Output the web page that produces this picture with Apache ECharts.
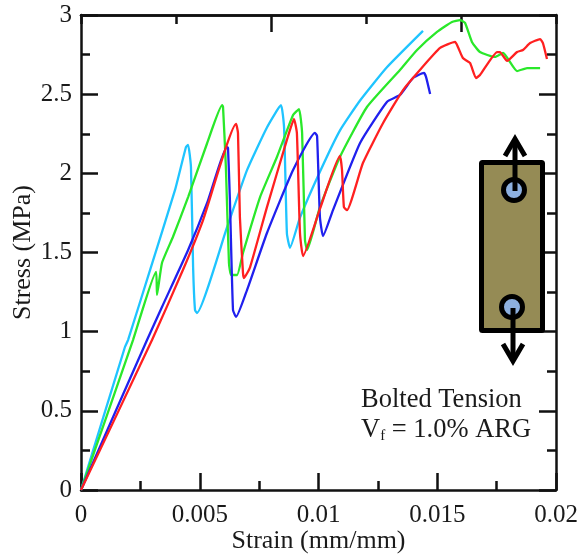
<!DOCTYPE html>
<html>
<head>
<meta charset="utf-8">
<style>
  html, body { margin: 0; padding: 0; background: #fff; }
  #main { width: 580px; height: 558px; }
</style>
<script src="https://cdn.jsdelivr.net/npm/echarts@6/dist/echarts.min.js"></script>
</head>
<body>
<div id="main"></div>
<script>
// [strain, stress]
const cyanCurve = [[0,0],[0.00185,0.903],[0.00198,0.947],[0.00291,1.39],[0.00396,1.895],[0.00442,2.166],[0.00451,2.18],[0.00463,2.04],[0.00472,1.41],[0.0048,1.137],[0.00488,1.118],[0.00615,1.66],[0.00699,2.02],[0.00783,2.29],[0.00842,2.43],[0.00855,2.29],[0.00867,1.62],[0.0088,1.53],[0.00922,1.72],[0.01006,2.01],[0.0109,2.27],[0.01175,2.46],[0.01288,2.67],[0.0144,2.9]];
const greenCurve = [[0,0],[0.00219,0.947],[0.00316,1.377],[0.0032,1.232],[0.00341,1.434],[0.00387,1.598],[0.00451,1.85],[0.00531,2.19],[0.00594,2.43],[0.00598,2.42],[0.0061,2.04],[0.00623,1.434],[0.00632,1.358],[0.00657,1.358],[0.00682,1.497],[0.00754,1.85],[0.00825,2.103],[0.00893,2.368],[0.00918,2.406],[0.00931,2.255],[0.00943,1.579],[0.00952,1.516],[0.01006,1.787],[0.0109,2.103],[0.01204,2.419],[0.01343,2.653],[0.01415,2.779],[0.01499,2.893],[0.01562,2.956],[0.01596,2.968],[0.01617,2.95],[0.01646,2.83],[0.0168,2.766],[0.01743,2.735],[0.01777,2.76],[0.01836,2.646],[0.01878,2.665],[0.01933,2.665]];
const blueCurve = [[0,0],[0.00278,0.947],[0.00341,1.156],[0.00451,1.516],[0.00531,1.813],[0.00615,2.166],[0.00619,2.16],[0.00627,1.832],[0.0064,1.137],[0.00653,1.093],[0.00699,1.263],[0.00783,1.623],[0.00893,2.021],[0.00985,2.255],[0.00994,2.236],[0.01006,1.724],[0.01019,1.604],[0.01061,1.768],[0.01175,2.192],[0.01288,2.451],[0.01343,2.495],[0.01398,2.602],[0.01444,2.634],[0.01453,2.608],[0.0147,2.501]];
const redCurve = [[0,0],[0.00299,0.947],[0.00429,1.389],[0.00514,1.705],[0.00653,2.312],[0.00661,2.255],[0.00669,1.724],[0.00682,1.371],[0.00686,1.339],[0.00712,1.408],[0.00783,1.787],[0.00867,2.211],[0.00897,2.343],[0.00909,2.255],[0.00922,1.623],[0.00935,1.478],[0.01006,1.775],[0.0109,2.11],[0.01099,2.021],[0.01107,1.787],[0.0112,1.768],[0.01187,2.065],[0.01272,2.318],[0.01356,2.526],[0.01427,2.653],[0.01512,2.792],[0.01575,2.83],[0.01587,2.798],[0.01608,2.728],[0.01638,2.697],[0.01663,2.602],[0.0168,2.621],[0.01752,2.766],[0.01764,2.766],[0.01794,2.71],[0.01836,2.766],[0.01861,2.779],[0.01891,2.823],[0.01933,2.848],[0.01945,2.823],[0.01962,2.722]];

const topLongTicks = [0.008, 0.016];

const font = '"Liberation Serif", serif';
const ink = '#1a1a1a';
const tickStyle = { color: '#111', width: 2.5 };
const axisLine = { show: true, onZero: false, lineStyle: { color: '#111', width: 2.5 } };

const makeLine = (name, data, color) => ({
  name,
  type: 'line',
  data,
  showSymbol: false,
  smooth: 0.15,
  lineStyle: { color, width: 2.3 }
});

const baseX = {
  type: 'value',
  min: 0,
  max: 0.02,
  splitLine: { show: false },
  axisLine
};
const baseY = {
  type: 'value',
  min: 0,
  max: 3,
  interval: 0.5,
  splitLine: { show: false },
  axisLine,
  axisTick: { inside: true, length: 17, lineStyle: tickStyle },
  minorTick: { show: true, splitNumber: 2, length: 9, lineStyle: tickStyle }
};

const chart = echarts.init(document.getElementById('main'), null, { renderer: 'canvas' });

chart.setOption({
  animation: false,
  backgroundColor: '#fff',
  grid: { left: 81, top: 15, width: 475, height: 475, containLabel: false, outerBoundsMode: 'none' },
  xAxis: [
    {
      ...baseX,
      position: 'bottom',
      interval: 0.005,
      name: 'Strain (mm/mm)',
      nameLocation: 'middle',
      nameMoveOverlap: false,
      nameGap: 38,
      nameTextStyle: { fontFamily: font, fontSize: 26, color: ink },
      axisLabel: { fontFamily: font, fontSize: 25, color: ink, margin: 13 },
      axisTick: { inside: true, length: 17, lineStyle: tickStyle },
      minorTick: { show: true, splitNumber: 2, length: 9, lineStyle: tickStyle }
    },
    {
      // top edge is ticked on a different step than the bottom
      ...baseX,
      position: 'top',
      interval: 0.004,
      axisLabel: { show: false },
      axisTick: { inside: true, length: 9, lineStyle: tickStyle }
    },
    {
      ...baseX,
      position: 'top',
      axisLabel: { show: false },
      axisTick: { inside: true, length: 17, customValues: topLongTicks, lineStyle: tickStyle }
    }
  ],
  yAxis: [
    {
      ...baseY,
      position: 'left',
      name: 'Stress (MPa)',
      nameLocation: 'middle',
      nameMoveOverlap: false,
      nameGap: 45,
      nameTextStyle: { fontFamily: font, fontSize: 26, color: ink },
      axisLabel: { fontFamily: font, fontSize: 25, color: ink, margin: 9 }
    },
    {
      ...baseY,
      position: 'right',
      axisLabel: { show: false }
    }
  ],
  series: [
    makeLine('cyan', cyanCurve, '#1fc4ff'),
    makeLine('green', greenCurve, '#2ae82a'),
    makeLine('blue', blueCurve, '#2020ee'),
    makeLine('red', redCurve, '#ff2020')
  ],
  // bolted specimen sketch and its note
  graphic: [
    { type: 'rect', z: 10, shape: { x: 481.5, y: 162.5, width: 61, height: 168, r: 1 }, style: { fill: '#958b55', stroke: '#000', lineWidth: 5 } },
    { type: 'circle', z: 11, shape: { cx: 514, cy: 190, r: 10.5 }, style: { fill: '#8db0df', stroke: '#000', lineWidth: 5 } },
    { type: 'circle', z: 11, shape: { cx: 512, cy: 307, r: 10.5 }, style: { fill: '#8db0df', stroke: '#000', lineWidth: 5 } },
    { type: 'line', z: 12, shape: { x1: 515, y1: 191, x2: 515, y2: 140 }, style: { stroke: '#000', lineWidth: 5 } },
    { type: 'polyline', z: 12, shape: { points: [[505, 156], [515, 139], [525, 156]] }, style: { stroke: '#000', lineWidth: 5, fill: null } },
    { type: 'line', z: 12, shape: { x1: 513, y1: 308, x2: 513, y2: 361 }, style: { stroke: '#000', lineWidth: 5 } },
    { type: 'polyline', z: 12, shape: { points: [[503, 344], [513, 361], [523, 344]] }, style: { stroke: '#000', lineWidth: 5, fill: null } },
    { type: 'text', z: 12, left: 361, top: 387, style: { text: 'Bolted Tension', fontFamily: font, fontSize: 26.5, fill: ink } },
    {
      type: 'text', z: 12, left: 361, top: 417,
      style: {
        text: '{a|V}{b|f}{a| = 1.0% ARG}',
        rich: {
          a: { fontFamily: font, fontSize: 26.5, fill: ink, color: ink },
          b: { fontFamily: font, fontSize: 15, fill: ink, color: ink, verticalAlign: 'bottom', padding: [8, 0, 0, 0] }
        }
      }
    }
  ]
});
</script>
</body>
</html>
